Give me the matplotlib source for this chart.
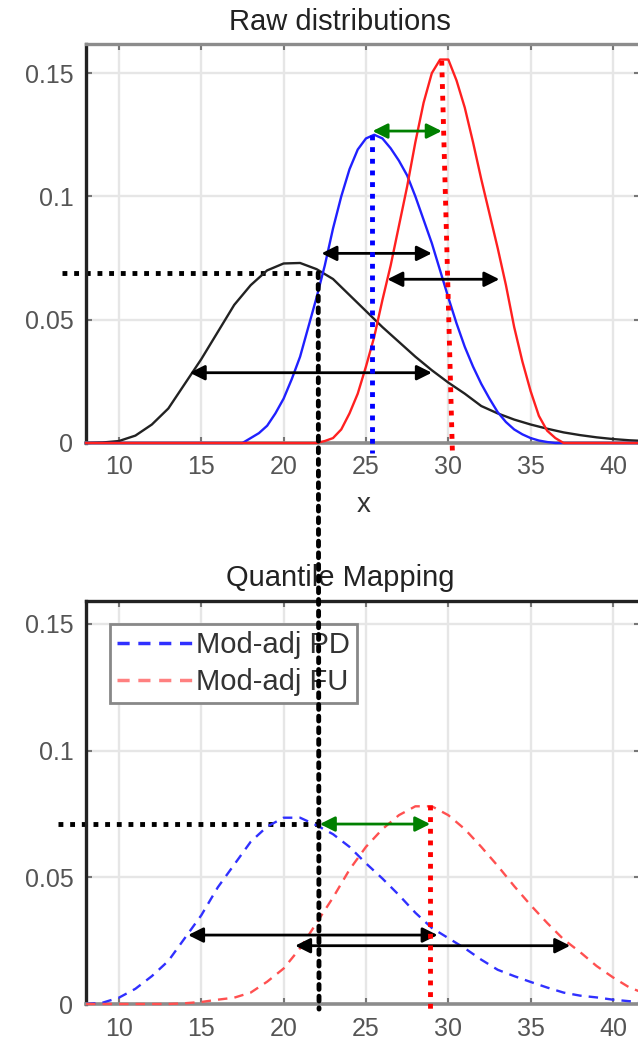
import matplotlib
matplotlib.use("Agg")
import matplotlib.pyplot as plt
from matplotlib.patches import ConnectionPatch
from matplotlib.lines import Line2D

plt.rcParams["font.family"] = ["Liberation Sans", "DejaVu Sans"]

# Raw distributions (top panel)
x_obs = [8, 9, 10, 11, 12, 13, 14, 15, 16, 17, 18, 19, 20, 21, 22, 23, 24,
         25, 26, 27, 28, 29, 30, 31, 32, 33, 34, 35, 36, 37, 38, 39, 40, 41, 42]
y_obs = [0.0, 0.0002, 0.0008, 0.003, 0.0075, 0.014, 0.024, 0.034, 0.045,
         0.056, 0.064, 0.070, 0.0728, 0.0730, 0.0705, 0.0665, 0.0600, 0.0535,
         0.047, 0.041, 0.035, 0.0295, 0.0245, 0.020, 0.015, 0.012, 0.0095,
         0.0075, 0.0058, 0.0043, 0.0032, 0.0023, 0.0016, 0.0011, 0.0008]

x_mod_pd = [8, 17.5, 18, 18.5, 19, 19.5, 20, 20.5, 21, 21.5, 22, 22.5, 23,
            23.5, 24, 24.5, 25, 25.5, 26, 26.5, 27, 27.5, 28, 28.5, 29, 29.5,
            30, 30.5, 31, 31.5, 32, 32.5, 33, 33.5, 34, 34.5, 35, 35.5, 36,
            36.5, 42]
y_mod_pd = [0.0, 0.0, 0.002, 0.004, 0.007, 0.012, 0.018, 0.026, 0.035, 0.047,
            0.059, 0.072, 0.087, 0.100, 0.111, 0.119, 0.1235, 0.125, 0.1235,
            0.1195, 0.1145, 0.1085, 0.100, 0.0905, 0.081, 0.070, 0.059,
            0.0485, 0.039, 0.031, 0.024, 0.018, 0.0125, 0.0085, 0.0055,
            0.0035, 0.002, 0.001, 0.0004, 0.0, 0.0]

x_mod_fu = [8, 22, 22.5, 23, 23.5, 24, 24.5, 25, 25.5, 26, 26.5, 27, 27.5, 28,
            28.5, 29, 29.5, 30, 30.5, 31, 31.5, 32, 32.5, 33, 33.5, 34, 34.5,
            35, 35.5, 36, 36.5, 37, 42]
y_mod_fu = [0.0, 0.0, 0.0008, 0.002, 0.0055, 0.012, 0.020, 0.031, 0.043,
            0.058, 0.072, 0.088, 0.104, 0.122, 0.138, 0.150, 0.1555, 0.1555,
            0.147, 0.136, 0.122, 0.107, 0.093, 0.079, 0.064, 0.047, 0.033,
            0.021, 0.011, 0.005, 0.002, 0.0, 0.0]

# Quantile mapping (bottom panel)
x_adj = [8, 9, 10, 11, 12, 13, 14, 15, 16, 17, 18, 19, 20, 21, 22, 23, 24,
         25, 26, 27, 28, 29, 30, 31, 32, 33, 34, 35, 36, 37, 38, 39, 40, 41, 42]
y_adj_pd = [0.0, 0.0005, 0.0025, 0.006, 0.011, 0.017, 0.026, 0.035, 0.046,
            0.055, 0.064, 0.070, 0.0735, 0.0735, 0.0705, 0.067, 0.062, 0.0555,
            0.0495, 0.043, 0.036, 0.030, 0.026, 0.022, 0.0175, 0.0135, 0.011,
            0.0087, 0.0065, 0.0045, 0.0033, 0.0026, 0.0017, 0.0011, 0.0008]
y_adj_fu = [0.0, 0.0, 0.0, 0.0, 0.0, 0.0, 0.0003, 0.0008, 0.0017, 0.0025,
            0.0045, 0.0088, 0.014, 0.022, 0.032, 0.042, 0.053, 0.062, 0.069,
            0.0745, 0.078, 0.078, 0.0745, 0.069, 0.062, 0.0545, 0.0465, 0.039,
            0.032, 0.0255, 0.0205, 0.015, 0.0105, 0.0065, 0.004]

xticks = [10, 15, 20, 25, 30, 35, 40]
yticks = [0, 0.05, 0.1, 0.15]
ytick_labels = ["0", "0.05", "0.1", "0.15"]
legend_labels = ["Mod-adj PD", "Mod-adj FU"]

dot = (0, (1, 1.4))
arrow_style = "<|-|>,head_length=0.6,head_width=0.3"


def style_axes(ax, top_color):
    ax.set_xlim(8, 41.64)
    ax.set_xticks(xticks)
    ax.set_yticks(yticks)
    ax.set_yticklabels(ytick_labels)
    ax.grid(True, color="#e6e6e6", lw=1.7)
    ax.set_axisbelow(True)
    ax.tick_params(direction="in", length=4, width=1.5, color="#777777",
                   labelcolor="#555555", labelsize=18, pad=9,
                   top=True, right=True)
    ax.spines["left"].set_color("#222222")
    ax.spines["left"].set_linewidth(2.4)
    ax.spines["top"].set_color(top_color)
    ax.spines["top"].set_linewidth(2.4)
    ax.spines["bottom"].set_color("#8c8c8c")
    ax.spines["bottom"].set_linewidth(2.6)
    ax.spines["right"].set_visible(False)


def double_arrow(ax, x1, x2, y, color):
    ax.annotate("", xy=(x2, y), xytext=(x1, y),
                arrowprops=dict(arrowstyle=arrow_style, color=color, lw=2,
                                mutation_scale=15, shrinkA=0, shrinkB=0))


fig = plt.figure(figsize=(6.38, 10.42), dpi=100)
ax1 = fig.add_axes([86 / 638, 1 - 443 / 1042, 554 / 638, 399 / 1042])
ax2 = fig.add_axes([86 / 638, 1 - 1004 / 1042, 554 / 638, 403 / 1042])

# Top panel
ax1.plot(x_obs, y_obs, color="#222222", lw=1.7, zorder=3, clip_on=False)
ax1.plot(x_mod_pd, y_mod_pd, color="#2020ff", lw=1.7, zorder=3,
         clip_on=False)
ax1.plot(x_mod_fu, y_mod_fu, color="#ff2020", lw=1.7, zorder=3,
         clip_on=False)
ax1.set_ylim(0, 0.1618)
style_axes(ax1, "#8c8c8c")

ax1.plot([6.55, 22.1], [0.069, 0.069], color="k", lw=3.5, ls=dot,
         clip_on=False)
ax1.plot([25.35, 25.35], [0.125, -0.004], color="#0000ff", lw=3.5, ls=dot,
         clip_on=False, zorder=4)
ax1.plot([29.6, 30.25], [0.155, -0.004], color="#ff0000", lw=3.5, ls=dot,
         clip_on=False, zorder=4)
double_arrow(ax1, 25.4, 29.6, 0.1265, "green")
double_arrow(ax1, 22.3, 29.0, 0.0769, "k")
double_arrow(ax1, 26.3, 33.1, 0.0664, "k")
double_arrow(ax1, 14.3, 29.0, 0.0285, "k")

# Bottom panel
ax2.plot(x_adj, y_adj_pd, color="#3030ff", lw=1.7, ls=(0, (4, 3)),
         zorder=3, clip_on=False)
ax2.plot(x_adj, y_adj_fu, color="#ff5050", lw=1.7, ls=(0, (4, 3)),
         zorder=3, clip_on=False)
ax2.set_ylim(0, 0.159)
style_axes(ax2, "#222222")

ax2.plot([6.3, 22.2], [0.071, 0.071], color="k", lw=3.5, ls=dot,
         clip_on=False)
ax2.plot([28.9, 28.9], [0.0785, -0.003], color="#ff0000", lw=3.5, ls=dot,
         clip_on=False, zorder=4)
double_arrow(ax2, 22.2, 28.9, 0.071, "green")
double_arrow(ax2, 14.2, 29.35, 0.0272, "k")
double_arrow(ax2, 20.7, 37.4, 0.023, "k")

handles = [Line2D([], [], color="#3030ff", lw=2.5, ls=(0, (3.5, 2.5))),
           Line2D([], [], color="#ff8080", lw=2.5, ls=(0, (3.5, 2.5)))]
leg = ax2.legend(handles, legend_labels, loc="upper left",
                 bbox_to_anchor=(0.0435, 0.943), borderaxespad=0,
                 fontsize=21, frameon=True, fancybox=False,
                 edgecolor="#888888", framealpha=1, handlelength=2.6,
                 handletextpad=0.1, borderpad=0.25, labelspacing=0.3)
leg.get_frame().set_linewidth(2)
for t in leg.get_texts():
    t.set_color("#333333")

# Titles and x label
fig.text(340 / 638, 1 - 22 / 1042, "Raw distributions", fontsize=21,
         color="#222222", ha="center", va="center")
fig.text(340 / 638, 1 - 578 / 1042, "Quantile Mapping", fontsize=21,
         color="#222222", ha="center", va="center")
fig.text(364 / 638, 1 - 505 / 1042, "x", fontsize=20, color="#333333",
         ha="center", va="center")

# Dotted link between both panels
con = ConnectionPatch(xyA=(22.1, 0.069), coordsA=ax1.transData,
                      xyB=(22.15, -0.002), coordsB=ax2.transData,
                      color="k", lw=3.5, ls=dot, zorder=10)
fig.add_artist(con)

fig.savefig("out.png", dpi=100)
